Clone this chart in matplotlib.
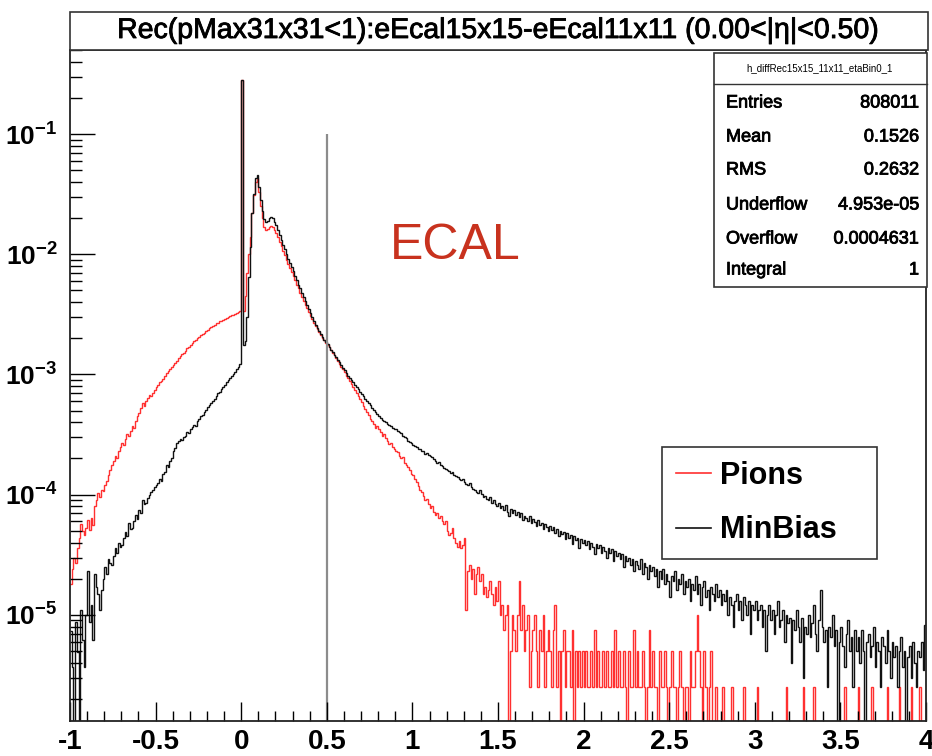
import numpy as np
import matplotlib
matplotlib.use("Agg")
import matplotlib.pyplot as plt
import matplotlib.patheffects as pe
from matplotlib.patches import Rectangle
from matplotlib.ticker import LogLocator, NullFormatter, MultipleLocator

plt.rcParams['font.family'] = ['Liberation Sans', 'DejaVu Sans']
plt.rcParams['mathtext.fontset'] = 'custom'
plt.rcParams['mathtext.rm'] = 'Liberation Sans'
plt.rcParams['mathtext.bf'] = 'Liberation Sans:bold'
plt.rcParams['mathtext.it'] = 'Liberation Sans:italic'

# ---------------- data ----------------
title = "Rec(pMax31x31<1):eEcal15x15-eEcal11x11 (0.00<|η|<0.50)"
x_min, x_max = -1.0, 4.0

pions = [
    # -1.0 .. -0.8
    1.8e-5, 2.4e-5, 3.0e-5, 2.7e-5, 3.6e-5, 4.4e-5, 5.7e-5, 5.0e-5, 4.6e-5, 5.3e-5,
    6.2e-5, 5.1e-5, 6.4e-5, 5.6e-5, 8.0e-5, 9.0e-5, 1.03e-4, 9.6e-5, 1.1e-4, 1.08e-4,
    # -0.8 .. -0.6
    1.2e-4, 1.3e-4, 1.45e-4, 1.6e-4, 1.75e-4, 1.9e-4, 2.1e-4, 2.0e-4, 2.3e-4, 2.5e-4,
    2.7e-4, 2.6e-4, 2.9e-4, 3.2e-4, 3.1e-4, 3.4e-4, 3.7e-4, 3.6e-4, 4.1e-4, 4.5e-4,
    # -0.6 .. -0.4
    4.8e-4, 5.3e-4, 5.8e-4, 5.5e-4, 6.0e-4, 6.4e-4, 6.8e-4, 6.6e-4, 7.0e-4, 7.4e-4,
    7.8e-4, 8.2e-4, 8.6e-4, 8.9e-4, 9.2e-4, 9.8e-4, 1.03e-3, 1.06e-3, 1.1e-3, 1.15e-3,
    # -0.4 .. -0.2
    1.2e-3, 1.25e-3, 1.3e-3, 1.36e-3, 1.42e-3, 1.48e-3, 1.52e-3, 1.58e-3, 1.65e-3, 1.7e-3,
    1.76e-3, 1.82e-3, 1.9e-3, 1.95e-3, 2.0e-3, 2.06e-3, 2.12e-3, 2.18e-3, 2.22e-3, 2.3e-3,
    # -0.2 .. 0.0
    2.36e-3, 2.42e-3, 2.5e-3, 2.54e-3, 2.6e-3, 2.66e-3, 2.7e-3, 2.76e-3, 2.8e-3, 2.86e-3,
    2.9e-3, 2.95e-3, 3.0e-3, 3.05e-3, 3.1e-3, 3.15e-3, 3.2e-3, 3.25e-3, 3.3e-3, 3.4e-3,
    # 0.0 .. 0.2
    0.28, 3.4e-3, 4.5e-3, 7.0e-3, 1.0e-2, 1.4e-2, 2.2e-2, 3.1e-2, 4.0e-2, 4.3e-2,
    3.3e-2, 2.5e-2, 2.0e-2, 1.7e-2, 1.6e-2, 1.62e-2, 1.7e-2, 1.72e-2, 1.68e-2, 1.6e-2,
    # 0.2 .. 0.4
    1.5e-2, 1.38e-2, 1.26e-2, 1.16e-2, 1.07e-2, 9.8e-3, 9.0e-3, 8.3e-3, 7.7e-3, 7.1e-3,
    6.6e-3, 6.1e-3, 5.6e-3, 5.2e-3, 4.8e-3, 4.45e-3, 4.1e-3, 3.8e-3, 3.55e-3, 3.3e-3,
    # 0.4 .. 0.6
    3.08e-3, 2.88e-3, 2.7e-3, 2.53e-3, 2.38e-3, 2.25e-3, 2.13e-3, 2.02e-3, 1.92e-3, 1.84e-3,
    1.76e-3, 1.68e-3, 1.6e-3, 1.52e-3, 1.45e-3, 1.38e-3, 1.3e-3, 1.23e-3, 1.16e-3, 1.1e-3,
    # 0.6 .. 0.8
    1.04e-3, 9.8e-4, 9.3e-4, 8.8e-4, 8.3e-4, 7.8e-4, 7.4e-4, 7.0e-4, 6.6e-4, 6.2e-4,
    5.9e-4, 5.5e-4, 5.2e-4, 4.9e-4, 4.6e-4, 4.3e-4, 4.1e-4, 3.85e-4, 3.6e-4, 3.7e-4,
    # 0.8 .. 1.0
    3.5e-4, 3.3e-4, 3.1e-4, 3.2e-4, 2.95e-4, 2.8e-4, 2.65e-4, 2.7e-4, 2.5e-4, 2.4e-4,
    2.3e-4, 2.25e-4, 2.1e-4, 2.0e-4, 2.05e-4, 1.85e-4, 1.75e-4, 1.7e-4, 1.6e-4, 1.5e-4,
    # 1.0 .. 1.2
    1.45e-4, 1.35e-4, 1.28e-4, 1.18e-4, 1.1e-4, 1.05e-4, 9.8e-5, 9.0e-5, 9.2e-5, 8.3e-5,
    7.8e-5, 8.0e-5, 7.2e-5, 6.8e-5, 7.0e-5, 6.4e-5, 6.6e-5, 6.0e-5, 5.7e-5, 6.0e-5,
    # 1.2 .. 1.4
    5.0e-5, 4.6e-5, 4.8e-5, 5.3e-5, 4.4e-5, 4.0e-5, 3.7e-5, 4.1e-5, 3.6e-5, 3.8e-5,
    4.4e-5, 1.1e-5, 2.3e-5, 2.6e-5, 2.0e-5, 2.4e-5, 1.5e-5, 2.2e-5, 2.5e-5, 1.9e-5,
    # 1.4 .. 1.6
    2.2e-5, 1.5e-5, 1.7e-5, 1.4e-5, 1.6e-5, 1.9e-5, 1.5e-5, 1.2e-5, 1.7e-5, 1.3e-5,
    1.9e-5, 1.0e-5, 1.2e-5, 7.5e-6, 1.0e-5, 1.2e-5, 0, 5.0e-6, 1.0e-5, 7.5e-6,
    # 1.6 .. 1.8
    5.0e-6, 1.0e-5, 1.9e-5, 7.5e-6, 1.2e-5, 5.0e-6, 7.5e-6, 1.0e-5, 2.5e-6, 5.0e-6,
    7.5e-6, 1.0e-5, 5.0e-6, 2.5e-6, 7.5e-6, 5.0e-6, 1.0e-5, 2.5e-6, 5.0e-6, 7.5e-6,
    # 1.8 .. 2.0
    5.0e-6, 2.5e-6, 7.5e-6, 1.2e-5, 2.5e-6, 5.0e-6, 0, 5.0e-6, 7.5e-6, 2.5e-6,
    5.0e-6, 5.0e-6, 2.5e-6, 7.5e-6, 0, 5.0e-6, 2.5e-6, 5.0e-6, 2.5e-6, 5.0e-6,
    # 2.0 .. 2.2
    2.5e-6, 5.0e-6, 2.5e-6, 2.5e-6, 5.0e-6, 2.5e-6, 7.5e-6, 2.5e-6, 5.0e-6, 2.5e-6,
    2.5e-6, 5.0e-6, 2.5e-6, 5.0e-6, 2.5e-6, 2.5e-6, 5.0e-6, 2.5e-6, 7.5e-6, 2.5e-6,
    # 2.2 .. 2.4
    5.0e-6, 2.5e-6, 2.5e-6, 5.0e-6, 2.5e-6, 0, 5.0e-6, 2.5e-6, 2.5e-6, 7.5e-6,
    2.5e-6, 5.0e-6, 2.5e-6, 2.5e-6, 5.0e-6, 2.5e-6, 0, 2.5e-6, 7.5e-6, 2.5e-6,
    # 2.4 .. 2.6
    5.0e-6, 2.5e-6, 2.5e-6, 0, 5.0e-6, 2.5e-6, 2.5e-6, 5.0e-6, 2.5e-6, 0,
    2.5e-6, 5.0e-6, 2.5e-6, 2.5e-6, 0, 2.5e-6, 5.0e-6, 2.5e-6, 0, 2.5e-6,
    # 2.6 .. 2.8
    2.5e-6, 0, 5.0e-6, 2.5e-6, 2.5e-6, 5.0e-6, 1.0e-5, 5.0e-6, 2.5e-6, 0,
    5.0e-6, 2.5e-6, 0, 2.5e-6, 5.0e-6, 0, 0, 2.5e-6, 0, 0,
    # 2.8 .. 3.0
    0, 2.5e-6, 0, 0, 0, 0, 2.5e-6, 0, 0, 0,
    0, 0, 0, 2.5e-6, 0, 0, 0, 0, 0, 0,
    # 3.0 .. 3.2
    0, 2.5e-6, 0, 0, 0, 0, 0, 0, 0, 0,
    0, 0, 0, 0, 0, 0, 0, 0, 2.5e-6, 0,
    # 3.2 .. 3.4
    0, 0, 0, 0, 0, 0, 0, 0, 2.5e-6, 0,
    0, 0, 0, 0, 2.5e-6, 0, 0, 0, 0, 0,
    # 3.4 .. 3.6
    0, 0, 0, 0, 0, 0, 0, 0, 0, 0,
    0, 0, 2.5e-6, 0, 0, 0, 0, 0, 0, 0,
    # 3.6 .. 3.8
    2.5e-6, 0, 0, 0, 0, 0, 0, 0, 2.5e-6, 0,
    0, 0, 0, 0, 0, 0, 0, 2.5e-6, 0, 0,
    # 3.8 .. 4.0
    0, 0, 0, 0, 2.5e-6, 0, 0, 0, 0, 0,
    0, 2.5e-6, 0, 0, 0, 0, 2.5e-6, 0, 0, 0,
]

minbias = [
    # -1.0 .. -0.8
    7.4e-6, 3.7e-6, 1.2e-6, 8.7e-6, 4.9e-6, 1.2e-6, 1.1e-5, 6.2e-6, 3.7e-6, 1.0e-5,
    2.3e-5, 8.7e-6, 1.2e-5, 6.2e-6, 2.2e-5, 1.7e-5, 1.5e-5, 1.1e-5, 1.6e-5, 2.0e-5,
    # -0.8 .. -0.6
    2.5e-5, 2.2e-5, 2.9e-5, 2.7e-5, 2.6e-5, 3.1e-5, 3.6e-5, 3.3e-5, 4.0e-5, 3.7e-5,
    3.8e-5, 4.4e-5, 4.9e-5, 4.5e-5, 5.8e-5, 5.2e-5, 5.3e-5, 6.0e-5, 6.8e-5, 6.3e-5,
    # -0.6 .. -0.4
    7.5e-5, 7.0e-5, 9.0e-5, 8.3e-5, 8.6e-5, 9.4e-5, 1.0e-4, 1.05e-4, 1.1e-4, 1.15e-4,
    1.2e-4, 1.25e-4, 1.35e-4, 1.3e-4, 1.5e-4, 1.55e-4, 1.75e-4, 1.7e-4, 1.9e-4, 2.0e-4,
    # -0.4 .. -0.2
    2.3e-4, 2.45e-4, 2.7e-4, 2.8e-4, 2.9e-4, 2.85e-4, 3.0e-4, 3.1e-4, 3.3e-4, 3.25e-4,
    3.5e-4, 3.65e-4, 3.8e-4, 3.75e-4, 4.1e-4, 4.25e-4, 4.5e-4, 4.6e-4, 4.9e-4, 5.1e-4,
    # -0.2 .. 0.0
    5.4e-4, 5.6e-4, 5.8e-4, 6.0e-4, 6.3e-4, 6.6e-4, 7.0e-4, 7.2e-4, 7.6e-4, 7.9e-4,
    8.2e-4, 8.6e-4, 9.0e-4, 9.3e-4, 9.7e-4, 1.0e-3, 1.05e-3, 1.1e-3, 1.15e-3, 1.22e-3,
    # 0.0 .. 0.2
    0.28, 1.75e-3, 1.9e-3, 3.0e-3, 6.5e-3, 1.15e-2, 2.2e-2, 3.2e-2, 4.3e-2, 4.6e-2,
    3.6e-2, 2.8e-2, 2.3e-2, 1.95e-2, 1.85e-2, 1.9e-2, 2.0e-2, 2.05e-2, 2.0e-2, 1.85e-2,
    # 0.2 .. 0.4
    1.75e-2, 1.6e-2, 1.45e-2, 1.32e-2, 1.2e-2, 1.1e-2, 1.0e-2, 9.2e-3, 8.5e-3, 7.8e-3,
    7.2e-3, 6.6e-3, 6.1e-3, 5.6e-3, 5.2e-3, 4.8e-3, 4.45e-3, 4.1e-3, 3.8e-3, 3.5e-3,
    # 0.4 .. 0.6
    3.25e-3, 3.0e-3, 2.8e-3, 2.6e-3, 2.45e-3, 2.3e-3, 2.17e-3, 2.05e-3, 1.95e-3, 1.86e-3,
    1.78e-3, 1.7e-3, 1.61e-3, 1.53e-3, 1.46e-3, 1.39e-3, 1.32e-3, 1.26e-3, 1.2e-3, 1.14e-3,
    # 0.6 .. 0.8
    1.08e-3, 1.03e-3, 9.8e-4, 9.4e-4, 9.0e-4, 8.6e-4, 8.2e-4, 7.8e-4, 7.5e-4, 7.2e-4,
    6.9e-4, 6.6e-4, 6.3e-4, 6.05e-4, 5.8e-4, 5.55e-4, 5.3e-4, 5.1e-4, 4.9e-4, 4.7e-4,
    # 0.8 .. 1.0
    4.5e-4, 4.35e-4, 4.2e-4, 4.1e-4, 4.0e-4, 3.85e-4, 3.8e-4, 3.7e-4, 3.6e-4, 3.55e-4,
    3.5e-4, 3.4e-4, 3.3e-4, 3.25e-4, 3.1e-4, 3.0e-4, 2.95e-4, 2.82e-4, 2.75e-4, 2.7e-4,
    # 1.0 .. 1.2
    2.6e-4, 2.55e-4, 2.5e-4, 2.42e-4, 2.4e-4, 2.3e-4, 2.3e-4, 2.2e-4, 2.22e-4, 2.12e-4,
    2.1e-4, 2.05e-4, 1.98e-4, 1.92e-4, 1.85e-4, 1.88e-4, 1.78e-4, 1.72e-4, 1.66e-4, 1.64e-4,
    # 1.2 .. 1.4
    1.6e-4, 1.58e-4, 1.52e-4, 1.55e-4, 1.45e-4, 1.42e-4, 1.4e-4, 1.36e-4, 1.32e-4, 1.35e-4,
    1.28e-4, 1.22e-4, 1.2e-4, 1.26e-4, 1.16e-4, 1.12e-4, 1.1e-4, 1.06e-4, 1.04e-4, 1.09e-4,
    # 1.4 .. 1.6
    1.02e-4, 9.6e-5, 9.8e-5, 9.2e-5, 9.0e-5, 9.5e-5, 8.6e-5, 9.0e-5, 8.4e-5, 8.1e-5,
    8.6e-5, 7.8e-5, 8.0e-5, 7.5e-5, 8.2e-5, 7.2e-5, 6.6e-5, 7.6e-5, 7.1e-5, 7.4e-5,
    # 1.6 .. 1.8
    6.8e-5, 7.2e-5, 6.5e-5, 7.0e-5, 6.2e-5, 6.7e-5, 6.4e-5, 6.0e-5, 6.6e-5, 5.8e-5,
    6.3e-5, 5.9e-5, 5.5e-5, 6.2e-5, 5.6e-5, 5.8e-5, 5.2e-5, 5.7e-5, 5.4e-5, 5.0e-5,
    # 1.8 .. 2.0
    5.5e-5, 5.1e-5, 5.4e-5, 4.8e-5, 5.2e-5, 4.5e-5, 5.0e-5, 4.7e-5, 4.9e-5, 4.3e-5,
    4.8e-5, 4.4e-5, 4.6e-5, 3.9e-5, 4.5e-5, 4.2e-5, 4.4e-5, 3.6e-5, 4.3e-5, 4.0e-5,
    # 2.0 .. 2.2
    4.2e-5, 3.8e-5, 4.1e-5, 3.5e-5, 4.0e-5, 3.7e-5, 3.2e-5, 3.9e-5, 3.6e-5, 3.8e-5,
    3.3e-5, 3.7e-5, 3.4e-5, 3.0e-5, 3.6e-5, 3.3e-5, 3.5e-5, 2.8e-5, 3.4e-5, 3.1e-5,
    # 2.2 .. 2.4
    3.3e-5, 2.9e-5, 3.2e-5, 2.5e-5, 3.1e-5, 2.8e-5, 3.0e-5, 2.6e-5, 2.9e-5, 2.3e-5,
    2.8e-5, 2.6e-5, 2.4e-5, 2.9e-5, 2.2e-5, 2.7e-5, 2.5e-5, 2.0e-5, 2.6e-5, 2.3e-5,
    # 2.4 .. 2.6
    2.5e-5, 2.1e-5, 2.4e-5, 1.7e-5, 2.3e-5, 2.0e-5, 2.4e-5, 1.8e-5, 2.2e-5, 1.9e-5,
    1.4e-5, 2.1e-5, 1.9e-5, 2.3e-5, 1.6e-5, 2.0e-5, 1.8e-5, 2.2e-5, 1.5e-5, 1.9e-5,
    # 2.6 .. 2.8
    1.7e-5, 2.0e-5, 1.3e-5, 1.8e-5, 1.6e-5, 2.1e-5, 1.5e-5, 1.8e-5, 1.2e-5, 1.7e-5,
    1.9e-5, 1.4e-5, 1.6e-5, 1.1e-5, 1.7e-5, 1.5e-5, 1.3e-5, 1.8e-5, 1.4e-5, 1.6e-5,
    # 2.8 .. 3.0
    1.2e-5, 1.5e-5, 1.3e-5, 1.6e-5, 1.0e-5, 1.4e-5, 1.2e-5, 8.0e-6, 1.3e-5, 1.5e-5,
    1.1e-5, 1.3e-5, 9.0e-6, 1.4e-5, 1.2e-5, 1.0e-5, 1.3e-5, 7.0e-6, 1.2e-5, 1.1e-5,
    # 3.0 .. 3.2
    1.3e-5, 9.0e-6, 1.1e-5, 1.2e-5, 8.0e-6, 1.1e-5, 5.0e-6, 1.0e-5, 1.2e-5, 9.0e-6,
    1.1e-5, 7.0e-6, 1.0e-5, 1.3e-5, 8.0e-6, 9.0e-6, 1.1e-5, 6.0e-6, 1.0e-5, 8.5e-6,
    # 3.2 .. 3.4
    9.5e-6, 4.0e-6, 9.0e-6, 7.5e-6, 1.1e-5, 8.0e-6, 6.0e-6, 9.5e-6, 3.0e-6, 8.0e-6,
    7.0e-6, 1.0e-5, 6.5e-6, 8.5e-6, 1.2e-5, 7.0e-6, 5.0e-6, 9.0e-6, 1.6e-5, 8.0e-6,
    # 3.4 .. 3.6
    6.0e-6, 7.5e-6, 2.5e-6, 8.0e-6, 6.5e-6, 1.0e-5, 5.5e-6, 7.5e-6, 1.2e-6, 6.0e-6,
    8.0e-6, 5.5e-6, 3.7e-6, 7.0e-6, 9.0e-6, 5.0e-6, 6.5e-6, 2.5e-6, 7.5e-6, 5.0e-6,
    # 3.6 .. 3.8
    6.5e-6, 4.0e-6, 7.5e-6, 5.0e-6, 1.2e-6, 6.0e-6, 7.0e-6, 4.5e-6, 5.5e-6, 8.0e-6,
    3.7e-6, 6.0e-6, 5.0e-6, 2.5e-6, 6.5e-6, 5.5e-6, 4.0e-6, 7.5e-6, 5.0e-6, 3.0e-6,
    # 3.8 .. 4.0
    6.0e-6, 4.5e-6, 5.5e-6, 2.5e-6, 5.0e-6, 6.5e-6, 3.7e-6, 5.0e-6, 1.2e-6, 4.5e-6,
    5.5e-6, 3.0e-6, 6.0e-6, 4.0e-6, 2.5e-6, 5.0e-6, 4.5e-6, 6.0e-6, 3.5e-6, 8.2e-6,
]

series_names = ["Pions", "MinBias"]
x_tick_values = [-1, -0.5, 0, 0.5, 1, 1.5, 2, 2.5, 3, 3.5, 4]
x_tick_labels = ["-1", "-0.5", "0", "0.5", "1", "1.5", "2", "2.5", "3", "3.5", "4"]
y_tick_values = [1e-5, 1e-4, 1e-3, 1e-2, 1e-1]
y_tick_labels = [r"$\mathbf{10^{-5}}$", r"$\mathbf{10^{-4}}$", r"$\mathbf{10^{-3}}$",
                 r"$\mathbf{10^{-2}}$", r"$\mathbf{10^{-1}}$"]
y_min, y_max = 1.31e-6, 0.5
cut_x = 0.5
cut_top = 0.1
annotation = "ECAL"
stats_name = "h_diffRec15x15_11x11_etaBin0_1"
stats_labels = ["Entries", "Mean", "RMS", "Underflow", "Overflow", "Integral"]
stats_values = ["808011", "0.1526", "0.2632", "4.953e-05", "0.0004631", "1"]

# ---------------- figure ----------------
W, H = 932, 756
fig = plt.figure(figsize=(W / 100, H / 100), dpi=100)
fig.patch.set_facecolor("white")


def fx(px):
    return px / W


def fy(py):
    return 1 - py / H


thicken = [pe.withStroke(linewidth=0.6, foreground="black")]

ax = fig.add_axes([fx(70), fy(721), fx(926) - fx(70), fy(50) - fy(721)])
ax.set_yscale("log")

edges = np.linspace(x_min, x_max, len(pions) + 1)
floor = 1e-12
ax.stairs(np.maximum(np.asarray(pions), floor), edges, baseline=None,
          color="#ff3030", lw=1.0, label=series_names[0])
ax.stairs(np.maximum(np.asarray(minbias), floor), edges, baseline=None,
          color="#111111", lw=1.0, label=series_names[1])

ax.vlines(cut_x, y_min, cut_top, color="#8c8c8c", lw=1.6, zorder=1)

ax.set_xlim(x_min, x_max)
ax.set_ylim(y_min, y_max)

ax.set_xticks(x_tick_values)
ax.set_xticklabels(x_tick_labels, fontsize=20, fontweight="bold")
ax.xaxis.set_minor_locator(MultipleLocator(0.1))
ax.set_yticks(y_tick_values)
ax.set_yticklabels(y_tick_labels, fontsize=19)
ax.yaxis.set_minor_locator(LogLocator(base=10, subs=np.arange(2, 10)))
ax.yaxis.set_minor_formatter(NullFormatter())

ax.tick_params(axis="x", which="major", direction="in", length=13.5, width=1.0, pad=6)
ax.tick_params(axis="x", which="minor", direction="in", length=7, width=1.0)
ax.tick_params(axis="y", which="major", direction="in", length=18, width=1.0, pad=9)
ax.tick_params(axis="y", which="minor", direction="in", length=8.5, width=1.0)
for s in ax.spines.values():
    s.set_linewidth(1.3)
    s.set_color("#222222")

ax.text((390 - 70) / 856, (721 - 246) / 671, annotation, transform=ax.transAxes,
        fontsize=36, color="#c8321e", va="center", ha="left")

leg = ax.legend(loc="upper left",
                bbox_to_anchor=(fx(662), fy(557), fx(877) - fx(662), fy(447) - fy(557)),
                bbox_transform=fig.transFigure, mode="expand", frameon=True,
                fancybox=False, prop={"weight": "bold", "size": 22},
                handlelength=1.15, handletextpad=0.3, borderpad=0.45,
                labelspacing=0.8, borderaxespad=0, framealpha=1, shadow=False)
leg.get_frame().set_edgecolor("#333333")
leg.get_frame().set_linewidth(1.2)
for h in leg.get_lines():
    h.set_linewidth(1.2)

# title box
fig.patches.append(Rectangle((fx(70), fy(50)), fx(928) - fx(70), fy(12) - fy(50),
                             transform=fig.transFigure, facecolor="white",
                             edgecolor="#333333", lw=1.2, zorder=5))
fig.text(fx(498), fy(31), title, fontsize=20.5, ha="center", va="center", zorder=6,
         path_effects=thicken)

# stats box
fig.patches.append(Rectangle((fx(714), fy(287)), fx(927) - fx(714), fy(53) - fy(287),
                             transform=fig.transFigure, facecolor="white",
                             edgecolor="#333333", lw=1.2, zorder=5))
fig.add_artist(plt.Line2D([fx(714), fx(927)], [fy(84), fy(84)], transform=fig.transFigure,
                          color="#333333", lw=1.0, zorder=6))
fig.text(fx(820), fy(68), stats_name, fontsize=7, ha="center", va="center", zorder=6)
row_y = [103, 137, 170, 205, 239, 270]
for lab, val, yy in zip(stats_labels, stats_values, row_y):
    fig.text(fx(726), fy(yy), lab, fontsize=13, ha="left", va="center", zorder=6,
             path_effects=thicken)
    fig.text(fx(919), fy(yy), val, fontsize=13, ha="right", va="center", zorder=6,
             path_effects=thicken)

fig.savefig("out.png", dpi=100, facecolor="white")
